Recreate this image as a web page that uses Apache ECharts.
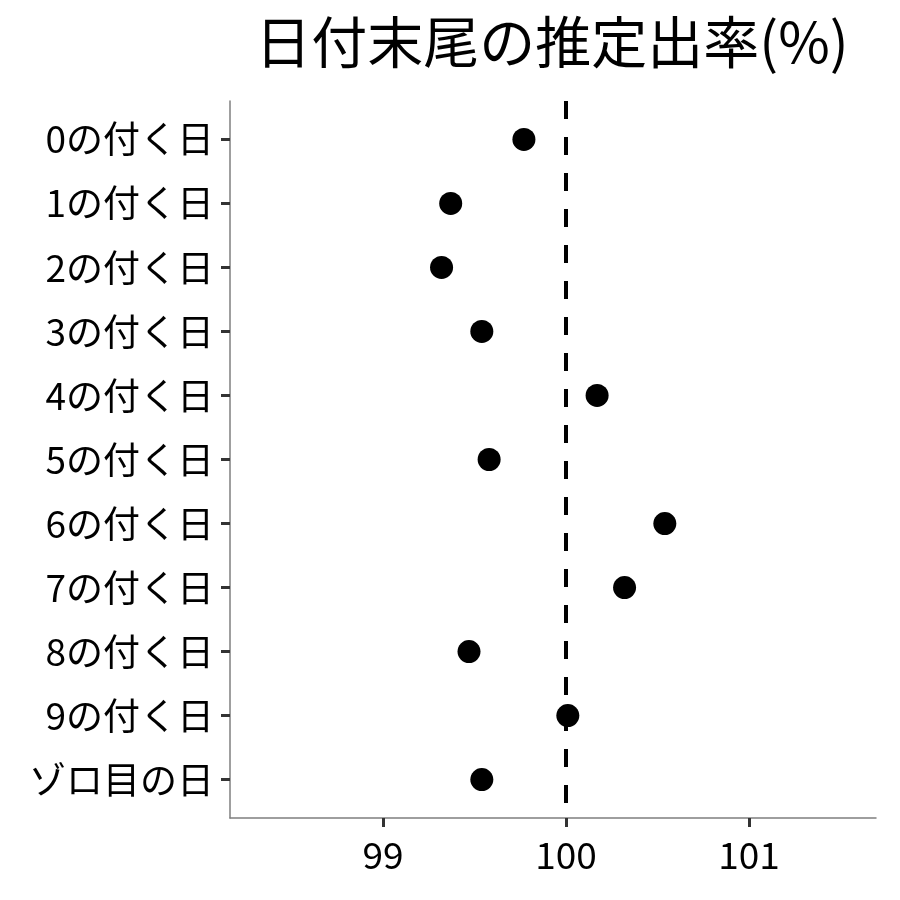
<!DOCTYPE html>
<html>
	<head>
		<meta charset="utf-8">
		<title>日付末尾の推定出率</title>
		<script src="https://cdn.jsdelivr.net/npm/echarts@6/dist/echarts.min.js"></script>
		<style>
			html, body { margin: 0; padding: 0; background: #fff; }
			#chart { width: 900px; height: 900px; }
		</style>
	</head>
	<body>
		<div id="chart"></div>
	</body>
	<script>
	// カテゴリ（上から順）
	var categories = ['0の付く日', '1の付く日', '2の付く日', '3の付く日', '4の付く日',
		'5の付く日', '6の付く日', '7の付く日', '8の付く日', '9の付く日', 'ゾロ目の日'];
	// 推定出率(%)
	var rates = [99.77, 99.37, 99.32, 99.54, 100.17, 99.58, 100.54, 100.32, 99.47, 100.01, 99.54];
	var xTicks = [99, 100, 101];
	var refLine = 100;

	var font = '"Noto Sans CJK JP", "Noto Sans", sans-serif';
	var points = [];
	for (var i = 0; i < rates.length; i++) {
		points.push([rates[i], i]);
	}
	var rowIdx = [];
	for (var j = 0; j < categories.length; j++) rowIdx.push(j);

	var chart = echarts.init(document.getElementById('chart'));
	chart.setOption({
		backgroundColor: '#fff',
		animation: false,
		title: {
			text: '日付末尾の推定出率(%)',
			left: 547,
			top: 9,
			textAlign: 'center',
			textStyle: { fontFamily: font, fontSize: 56, fontWeight: 'normal', color: '#000' }
		},
		grid: { left: 230, right: 24, top: 101, bottom: 82 },
		xAxis: {
			type: 'value',
			min: 98.164,
			max: 101.694,
			splitLine: { show: false },
			axisLine: { show: true, onZero: false, lineStyle: { color: '#7f7f7f', width: 1.5 } },
			axisTick: { show: true, customValues: xTicks, length: 9, lineStyle: { color: '#333', width: 3 } },
			axisLabel: { customValues: xTicks, margin: 18, fontFamily: font, fontSize: 37, color: '#000' }
		},
		yAxis: {
			type: 'value',
			inverse: true,
			min: -0.6,
			max: 10.6,
			splitLine: { show: false },
			axisLine: { show: true, onZero: false, lineStyle: { color: '#7f7f7f', width: 1.5 } },
			axisTick: { show: true, customValues: rowIdx, length: 9, lineStyle: { color: '#333', width: 3 } },
			axisLabel: {
				customValues: rowIdx,
				margin: 16,
				fontFamily: font, fontSize: 37, color: '#000',
				formatter: function (v) { return categories[Math.round(v)]; }
			}
		},
		series: [{
			type: 'scatter',
			data: points,
			symbolSize: 23,
			itemStyle: { color: '#000', opacity: 1 },
			markLine: {
				silent: true,
				symbol: 'none',
				label: { show: false },
				lineStyle: { color: '#000', width: 4, type: [18, 18] },
				data: [{ xAxis: refLine }]
			}
		}]
	});
	</script>
</html>
